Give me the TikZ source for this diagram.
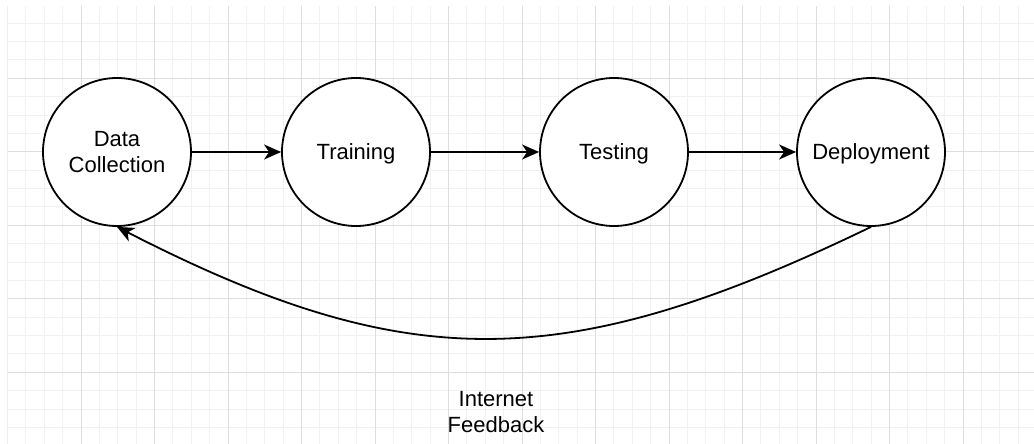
\documentclass[tikz,border=0pt]{standalone}
\usepackage{fontspec}
\setmainfont{Liberation Sans}
\usetikzlibrary{arrows.meta}
\definecolor{gridminor}{RGB}{241,241,241}
\definecolor{gridmajor}{RGB}{221,221,221}
\tikzset{
  stage/.style={circle, draw=black, line width=1.8pt, fill=white, minimum size=148pt,
    inner sep=0pt, align=center, font=\fontsize{22}{26.5}\selectfont},
  oneline/.style={text height=16pt, text depth=2pt},
  flow/.style={line width=1.8pt, -{Stealth[length=17pt,width=15pt,inset=5pt]}},
  lbl/.style={align=center, font=\fontsize{22}{26.5}\selectfont}
}
\begin{document}
\begin{tikzpicture}[x=1pt,y=-1pt]
\useasboundingbox (0,0) rectangle (1034,444);
\fill[white] (0,0) rectangle (1034,444);
% background grid
\begin{scope}
  \clip (7.5,7) rectangle (1034,444);
  \foreach \i in {0,...,56} {
    \pgfmathsetmacro{\gx}{7.5+18.375*\i}
    \draw[gridminor, line width=1pt] (\gx,0) -- (\gx,444);
  }
  \foreach \j in {1,...,23} {
    \pgfmathsetmacro{\gy}{4.8+18.375*\j}
    \draw[gridminor, line width=1pt] (0,\gy) -- (1034,\gy);
  }
  \foreach \i in {0,4,...,56} {
    \pgfmathsetmacro{\gx}{7.5+18.375*\i}
    \draw[gridmajor, line width=1pt] (\gx,0) -- (\gx,444);
  }
  \foreach \j in {4,8,...,20} {
    \pgfmathsetmacro{\gy}{4.8+18.375*\j}
    \draw[gridmajor, line width=1pt] (0,\gy) -- (1034,\gy);
  }
\end{scope}
% pipeline stages
\node[stage] (dc) at (117,152) {Data\\Collection};
\node[stage, oneline] (tr) at (356,152) {Training};
\node[stage, oneline] (te) at (614,152) {Testing};
\node[stage, oneline] (dp) at (871,152) {Deployment};
\draw[flow] (dc) -- (tr);
\draw[flow] (tr) -- (te);
\draw[flow] (te) -- (dp);
% feedback loop
\draw[flow] (dp.south) .. controls ++(-308,149) and (406,375) .. (dc.south);
\node[lbl] (fb) at (496,412) {Internet\\Feedback};
\end{tikzpicture}
\end{document}
